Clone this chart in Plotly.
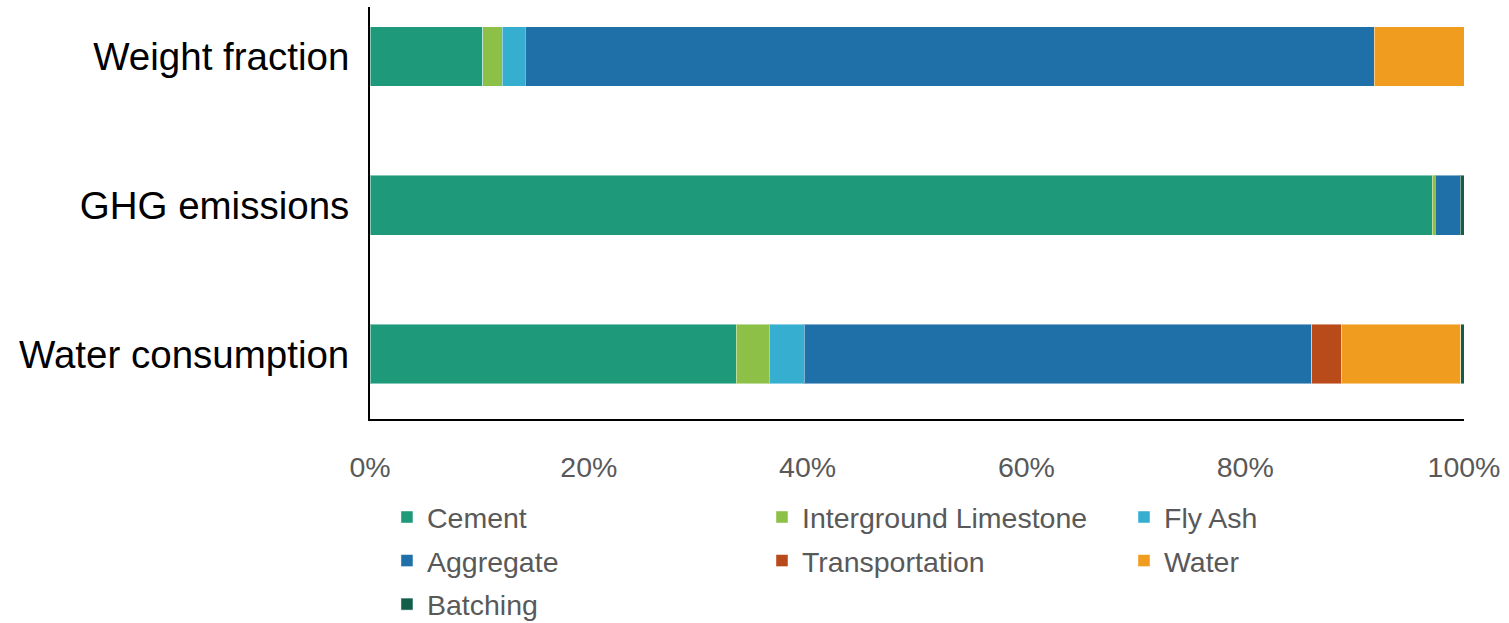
import plotly.graph_objects as go

# Share of each component (%) for the three indicators
categories = ["Weight fraction", "GHG emissions", "Water consumption"]

components = ["Cement", "Interground Limestone", "Fly Ash", "Aggregate",
              "Transportation", "Water", "Batching"]

cement = [10.3, 97.1, 33.5]
limestone = [1.8, 0.25, 3.0]
fly_ash = [2.1, 0.0, 3.2]
aggregate = [77.6, 2.3, 46.4]
transportation = [0.0, 0.0, 2.7]
water = [8.2, 0.0, 10.9]
batching = [0.0, 0.35, 0.4]

series = [cement, limestone, fly_ash, aggregate, transportation, water, batching]
colors = ["#1E9A7A", "#8DC046", "#36AECF", "#1F6FA9", "#B94A19", "#F09D1F", "#135E4A"]
# legend column for each component (three columns, filled row by row)
legend_ids = ["legend", "legend2", "legend3", "legend", "legend2", "legend3", "legend"]

fig = go.Figure()
for name, vals, col, lg in zip(components, series, colors, legend_ids):
    fig.add_trace(go.Bar(
        y=categories, x=vals, name=name, orientation="h",
        marker=dict(color=col, line=dict(color="rgba(255,255,255,0.45)", width=1)),
        width=0.4, legend=lg, legendgroup=name,
    ))

legend_font = dict(size=28.5, color="#595959")
legend_common = dict(
    orientation="v", xref="paper", yref="container", y=0.2103, yanchor="top",
    xanchor="left", traceorder="grouped", tracegroupgap=3.5,
    font=legend_font, bgcolor="rgba(0,0,0,0)",
)

fig.update_layout(
    barmode="stack",
    width=1509, height=623,
    margin=dict(l=370, r=45, t=7, b=203.5),
    paper_bgcolor="white", plot_bgcolor="white",
    font=dict(family="Liberation Sans, Arial, sans-serif", color="#595959"),
    showlegend=True,
    legend=dict(x=0.0155, **legend_common),
    legend2=dict(x=0.3583, **legend_common),
    legend3=dict(x=0.6892, **legend_common),
    xaxis=dict(
        range=[0, 100], tickvals=[0, 20, 40, 60, 80, 100],
        ticktext=["0%", "20%", "40%", "60%", "80%", "100%"],
        showgrid=False, zeroline=False,
        showline=True, linecolor="black", linewidth=2,
        tickfont=dict(size=28.5, color="#595959"),
        ticklabelstandoff=22,
    ),
    yaxis=dict(
        type="category", range=[2.436, -0.332],
        showgrid=False, zeroline=False,
        showline=True, linecolor="black", linewidth=2,
        tickfont=dict(size=38.5, color="black"),
        ticklabelstandoff=11,
    ),
)

fig.write_html("out.html")
